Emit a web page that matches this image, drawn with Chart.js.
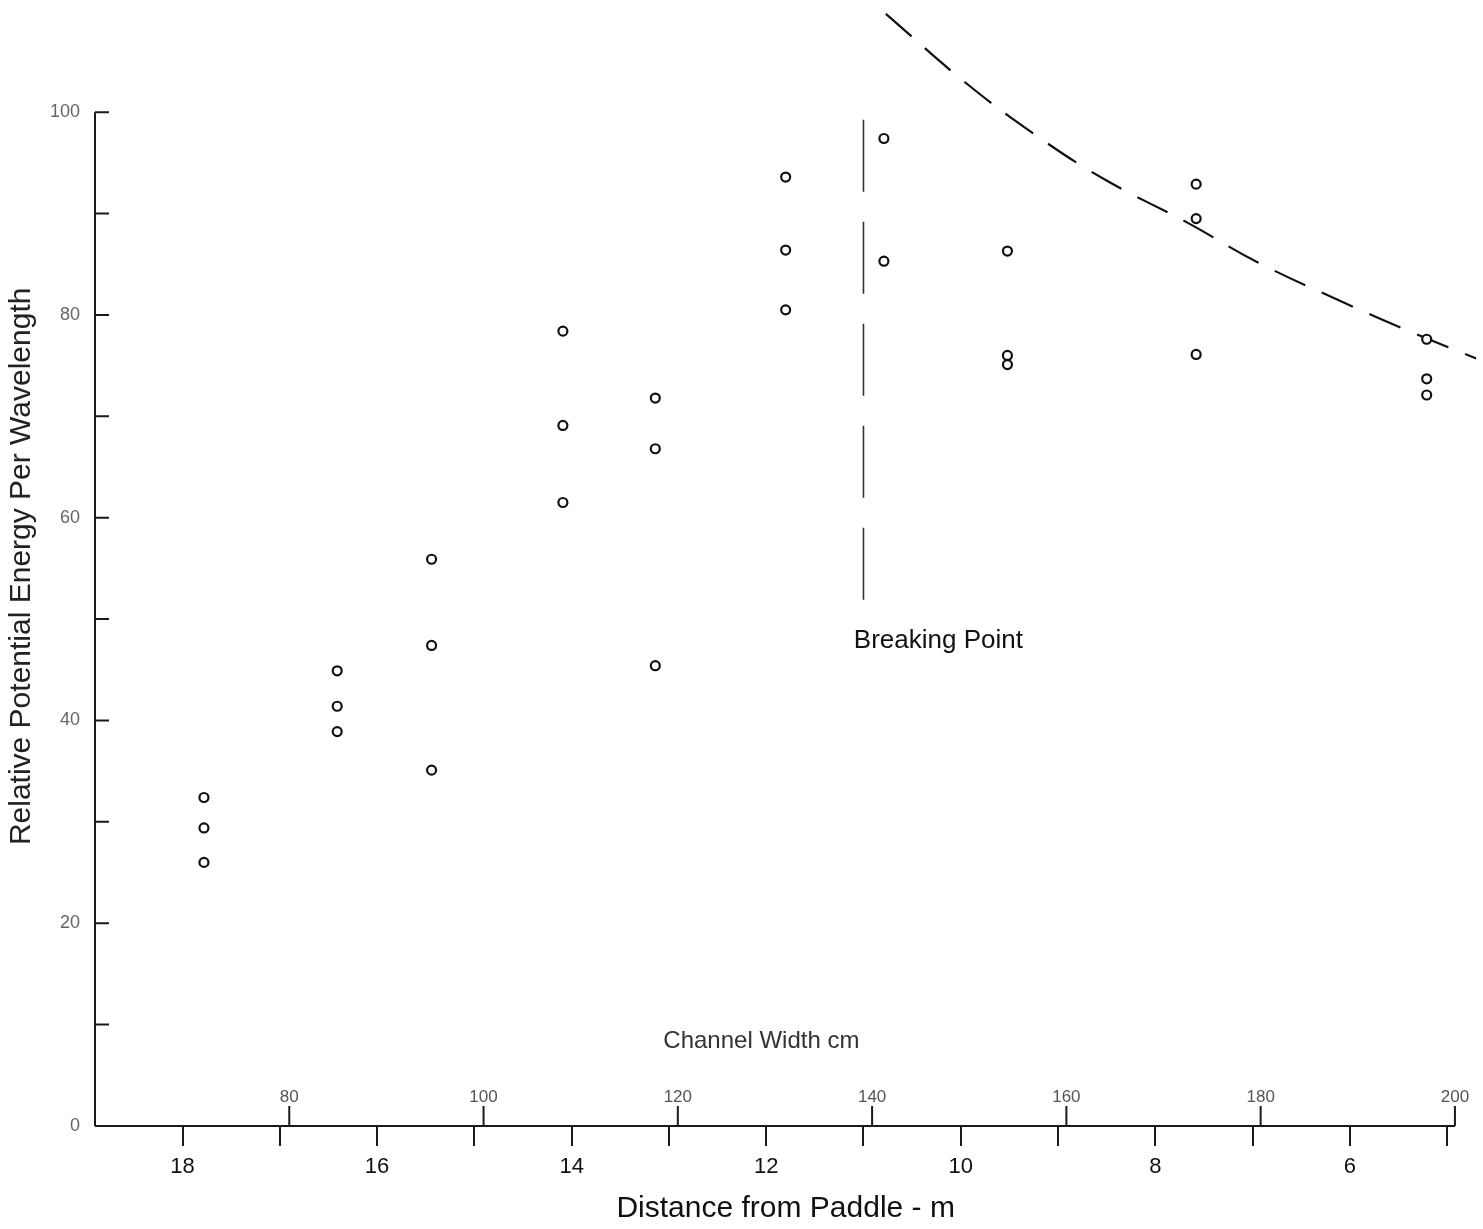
<!doctype html>
<html>
<head>
<meta charset="utf-8" />
<title>Relative Potential Energy per Wavelength</title>
<script src="https://cdn.jsdelivr.net/npm/chart.js@4.4.1/dist/chart.umd.min.js"></script>
<style>
  html, body { margin: 0; padding: 0; background: #fff; }
  #chart { display: block; }
</style>
</head>
<body>
<canvas id="chart" width="1483" height="1229"></canvas>
<script>
// distance from paddle (m) of each group of readings
var distance = [17.78, 16.41, 15.44, 14.09, 13.14, 11.80, 10.79, 9.52, 7.58, 5.21];
// three readings per station (top, middle, bottom)
var energyTop = [32.4, 44.9, 55.9, 78.4, 71.8, 93.6, 97.4, 86.3, 92.9, 77.6];
var energyMid = [29.4, 41.4, 47.4, 69.1, 66.8, 86.4, 85.3, 76.0, 89.5, 73.7];
var energyLow = [26.0, 38.9, 35.1, 61.5, 45.4, 80.5, null, 75.1, 76.1, 72.1];

// dashed envelope curve
var curveDistance = [10.77, 9.95, 9.21, 8.51, 7.67, 6.95, 6.08, 5.39, 4.70];
var curveEnergy = [109.7, 102.9, 97.6, 93.3, 89.1, 85.2, 81.3, 78.4, 75.7];

// breaking point marker
var breakDistance = 11.0;
var breakRange = [51.9, 101.7];

// channel width scale along the bottom (cm)
var channelTicks = [80, 100, 120, 140, 160, 180, 200];

var points = [];
[energyTop, energyMid, energyLow].forEach(function (row) {
    row.forEach(function (v, i) {
        if (v !== null) points.push({ x: distance[i], y: v });
    });
});
var curve = curveDistance.map(function (d, i) { return { x: d, y: curveEnergy[i] }; });
var breakLine = breakRange.map(function (v) { return { x: breakDistance, y: v }; });

Chart.defaults.font.family = "'Liberation Sans', Arial, sans-serif";

var handAxes = {
    id: 'handAxes',
    afterDatasetsDraw: function (chart) {
        var ctx = chart.ctx;
        var x = chart.scales.x, y = chart.scales.y, cw = chart.scales.cw;
        var x0 = chart.chartArea.left;
        var yBase = y.getPixelForValue(0);
        var xEnd = cw.getPixelForValue(200);

        ctx.save();
        ctx.strokeStyle = '#1a1a1a';
        ctx.lineWidth = 2;
        ctx.beginPath();
        // y axis with inward ticks
        ctx.moveTo(x0, yBase);
        ctx.lineTo(x0, y.getPixelForValue(100));
        y.ticks.forEach(function (t) {
            if (t.value > 100) return;
            var py = y.getPixelForValue(t.value);
            ctx.moveTo(x0, py);
            ctx.lineTo(x0 + 14, py);
        });
        // x axis line, ends at channel width 200
        ctx.moveTo(x0, yBase);
        ctx.lineTo(xEnd, yBase);
        // channel width ticks point up
        channelTicks.forEach(function (c) {
            var px = cw.getPixelForValue(c);
            ctx.moveTo(px, yBase);
            ctx.lineTo(px, yBase - 20);
        });
        ctx.stroke();

        ctx.textAlign = 'center';
        ctx.textBaseline = 'middle';
        ctx.fillStyle = '#555';
        ctx.font = "17px 'Liberation Sans', Arial, sans-serif";
        channelTicks.forEach(function (c) {
            ctx.fillText(String(c), cw.getPixelForValue(c), yBase - 29);
        });

        ctx.fillStyle = '#333';
        ctx.font = "24px 'Liberation Sans', Arial, sans-serif";
        ctx.fillText('Channel Width cm', cw.getPixelForValue(128.6), y.getPixelForValue(8.3));

        ctx.fillStyle = '#111';
        ctx.font = "26px 'Liberation Sans', Arial, sans-serif";
        ctx.fillText('Breaking Point', x.getPixelForValue(10.23), y.getPixelForValue(47.9));
        ctx.restore();
    }
};

var chart = new Chart(document.getElementById('chart'), {
    type: 'scatter',
    data: {
        datasets: [{
            label: 'Readings',
            data: points,
            pointStyle: 'circle',
            pointRadius: 4.5,
            borderWidth: 2.2,
            borderColor: '#111',
            backgroundColor: '#fff'
        }, {
            label: 'Envelope',
            data: curve,
            showLine: true,
            borderDash: [34, 18],
            borderColor: '#111',
            borderWidth: 2.2,
            pointRadius: 0,
            tension: 0.4
        }, {
            label: 'Breaking Point',
            data: breakLine,
            showLine: true,
            borderDash: [72, 30],
            borderColor: '#333',
            borderWidth: 1.6,
            pointRadius: 0
        }]
    },
    options: {
        responsive: false,
        animation: false,
        layout: { padding: 0 },
        plugins: {
            legend: { display: false },
            tooltip: { enabled: false }
        },
        scales: {
            x: {
                type: 'linear',
                position: 'bottom',
                reverse: true,
                min: 4.7,
                max: 18.9,
                afterFit: function (s) {
                    s.height = 103;
                    s.paddingLeft = 0;
                    s.paddingRight = 0;
                },
                border: { display: false },
                grid: { drawOnChartArea: false, tickLength: 20, color: '#1a1a1a', lineWidth: 2 },
                ticks: {
                    stepSize: 1,
                    includeBounds: false,
                    autoSkip: false,
                    maxRotation: 0,
                    padding: 8,
                    color: '#111',
                    font: { size: 22 },
                    callback: function (v) { return v % 2 === 0 ? v : ''; }
                },
                title: {
                    display: true,
                    text: 'Distance from Paddle - m',
                    color: '#111',
                    font: { size: 30 },
                    padding: { top: 0, bottom: 2 }
                }
            },
            cw: {
                type: 'linear',
                axis: 'x',
                position: 'bottom',
                display: false,
                min: 60,
                max: 202.2
            },
            y: {
                type: 'linear',
                position: 'left',
                min: 0,
                max: 110.4,
                afterFit: function (s) {
                    s.width = 95;
                    s.paddingTop = 0;
                    s.paddingBottom = 0;
                },
                border: { display: false },
                grid: { drawOnChartArea: false, drawTicks: false },
                ticks: {
                    stepSize: 10,
                    includeBounds: false,
                    autoSkip: false,
                    padding: 15,
                    color: '#666',
                    font: { size: 18 },
                    callback: function (v) { return (v % 20 === 0 && v <= 100) ? v : ''; }
                },
                title: {
                    display: true,
                    text: 'Relative Potential Energy Per Wavelength',
                    color: '#222',
                    font: { size: 30 },
                    padding: { top: 4, bottom: 0 }
                }
            }
        }
    },
    plugins: [handAxes]
});
</script>
</body>
</html>
